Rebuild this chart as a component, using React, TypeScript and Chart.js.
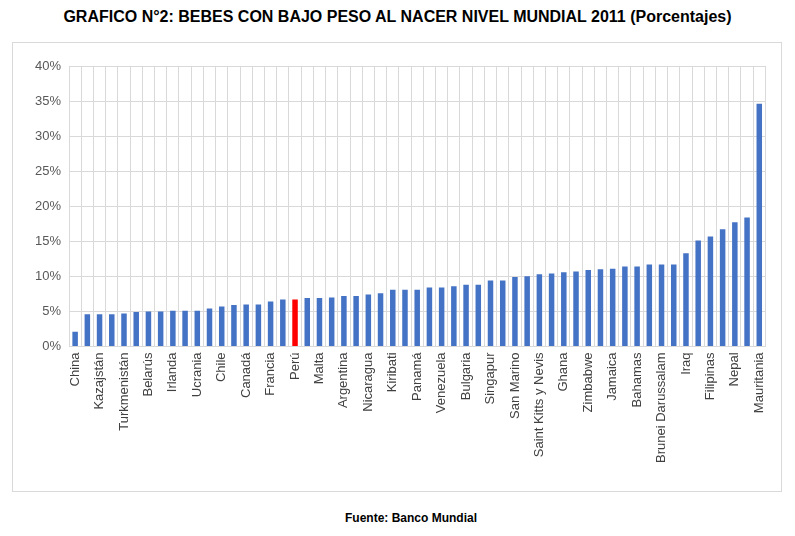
import { useEffect, useRef } from "react";
import { Chart, registerables } from "chart.js";

Chart.register(...registerables);

// one entry per bar; only every other bar is labelled, as in the original
const COUNTRY_LABELS = [
  "China", "", "Kazajstán", "", "Turkmenistán", "", "Belarús", "", "Irlanda", "",
  "Ucrania", "", "Chile", "", "Canadá", "", "Francia", "", "Perú", "",
  "Malta", "", "Argentina", "", "Nicaragua", "", "Kiribati", "", "Panamá", "",
  "Venezuela", "", "Bulgaria", "", "Singapur", "", "San Marino", "", "Saint Kitts y Nevis", "",
  "Ghana", "", "Zimbabwe", "", "Jamaica", "", "Bahamas", "", "Brunei Darussalam", "",
  "Iraq", "", "Filipinas", "", "Nepal", "", "Mauritania",
];

const LOW_WEIGHT_PCT = [
  2.1, 4.6, 4.6, 4.6, 4.7, 4.9, 5.0, 5.0, 5.1, 5.1,
  5.1, 5.4, 5.7, 5.9, 6.0, 6.0, 6.4, 6.7, 6.7, 6.9,
  6.9, 7.0, 7.2, 7.2, 7.4, 7.6, 8.1, 8.1, 8.1, 8.4,
  8.4, 8.6, 8.8, 8.8, 9.4, 9.4, 9.9, 10.0, 10.3, 10.4,
  10.6, 10.7, 10.9, 11.0, 11.1, 11.4, 11.4, 11.7, 11.7, 11.7,
  13.3, 15.1, 15.7, 16.7, 17.7, 18.4, 34.6,
];

const HIGHLIGHT = "Perú";

export default function App() {
  const canvasRef = useRef<HTMLCanvasElement>(null);

  useEffect(() => {
    if (!canvasRef.current) return;
    const chart = new Chart(canvasRef.current, {
      type: "bar",
      data: {
        labels: COUNTRY_LABELS,
        datasets: [
          {
            data: LOW_WEIGHT_PCT,
            backgroundColor: COUNTRY_LABELS.map((l) => (l === HIGHLIGHT ? "#ff0000" : "#4472c4")),
            barPercentage: 0.45,
            categoryPercentage: 1,
          },
        ],
      },
      options: {
        responsive: true,
        maintainAspectRatio: false,
        animation: false,
        layout: { padding: { top: 23, right: 14, left: 14, bottom: 22 } },
        plugins: { legend: { display: false }, tooltip: { enabled: false } },
        scales: {
          x: {
            grid: { color: "#d9d9d9", offset: true, drawTicks: false },
            border: { color: "#d9d9d9" },
            ticks: {
              autoSkip: false,
              maxRotation: 90,
              minRotation: 90,
              padding: 6,
              color: "#404040",
              font: { family: "'Liberation Sans', Arial", size: 13 },
            },
          },
          y: {
            min: 0,
            max: 40,
            ticks: {
              stepSize: 5,
              padding: 8,
              color: "#595959",
              font: { family: "'Liberation Sans', Arial", size: 13 },
              callback: (v) => `${v}%`,
            },
            grid: { color: "#d9d9d9", drawTicks: false },
            border: { display: false },
          },
        },
      },
    });
    return () => chart.destroy();
  }, []);

  return (
    <div style={{ position: "absolute", left: 0, top: 0, width: 795, height: 536, background: "#fff", fontFamily: "'Liberation Sans', Arial, sans-serif" }}>
      <div style={{ position: "absolute", top: 8, left: 0, width: 795, textAlign: "center", fontWeight: 700, fontSize: 16, color: "#000" }}>
        GRAFICO N°2: BEBES CON BAJO PESO AL NACER NIVEL MUNDIAL 2011 (Porcentajes)
      </div>
      <div style={{ position: "absolute", left: 12, top: 42, width: 770, height: 450, border: "1px solid #d9d9d9", boxSizing: "border-box" }}>
        <canvas ref={canvasRef} />
      </div>
      <div style={{ position: "absolute", top: 511, left: 0, width: 822, textAlign: "center", fontWeight: 700, fontSize: 12, color: "#000" }}>
        Fuente: Banco Mundial
      </div>
    </div>
  );
}
